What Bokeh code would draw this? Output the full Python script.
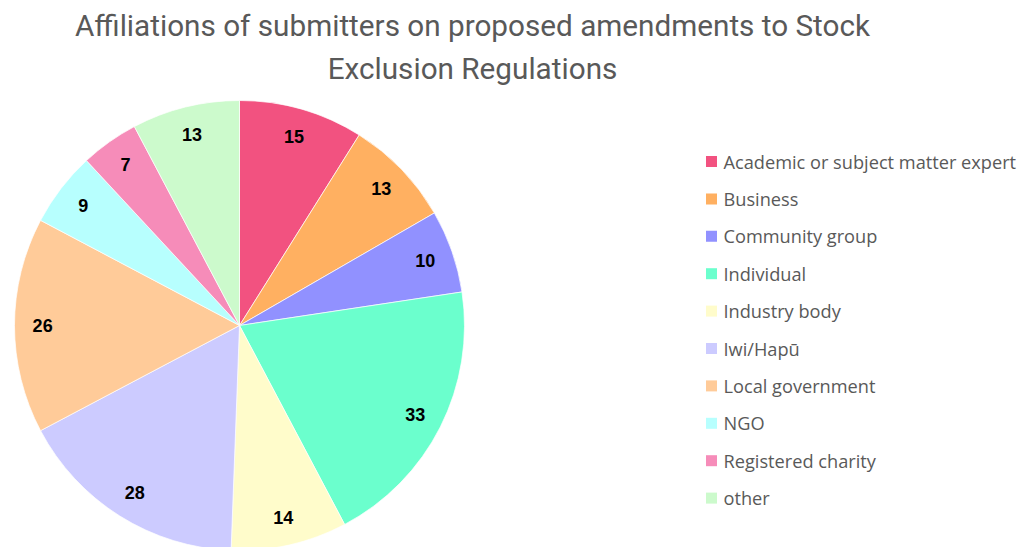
import numpy as np
from bokeh.plotting import figure
from bokeh.models import Range1d, Label, ColumnDataSource
from bokeh.core.properties import value
from bokeh.embed import file_html
from bokeh.resources import INLINE

categories = ["Academic or subject matter expert", "Business", "Community group", "Individual",
              "Industry body", "Iwi/Hapū", "Local government", "NGO", "Registered charity", "other"]
counts = [15, 13, 10, 33, 14, 28, 26, 9, 7, 13]
colors = ["#F25280", "#FFB061", "#9191FF", "#6BFFCD", "#FFFCCB",
          "#CCCBFF", "#FFCB99", "#B7FFFE", "#F68CB9", "#CCFACC"]
title_lines = ["Affiliations of submitters on proposed amendments to Stock", "Exclusion Regulations"]

W, H = 1023, 547
p = figure(width=W, height=H, x_range=Range1d(0, W), y_range=Range1d(0, H),
           output_backend="svg", toolbar_location=None, min_border=0)
p.axis.visible = False
p.grid.visible = False
p.outline_line_color = None
p.background_fill_color = "white"
p.border_fill_color = "white"

cx, cy, R = 239, H - 325, 225
vals = np.array(counts, dtype=float)
frac = vals / vals.sum()
cum = np.concatenate([[0], np.cumsum(frac)])
start = np.pi / 2 - 2 * np.pi * cum[:-1]
end = np.pi / 2 - 2 * np.pi * cum[1:]
mid = (start + end) / 2
src = ColumnDataSource(dict(start=start, end=end, color=colors, cat=categories,
                            lx=cx + 0.875 * R * np.cos(mid), ly=cy + 0.875 * R * np.sin(mid),
                            lab=[str(c) for c in counts]))
p.wedge(x=cx, y=cy, radius=R, start_angle="start", end_angle="end", direction="clock",
        fill_color="color", line_color="white", line_width=0.7, source=src)
p.text(x="lx", y="ly", text="lab", source=src, text_align="center", text_baseline="middle",
       text_font=value("Liberation Sans"), text_font_style="bold", text_font_size="18px",
       text_color="#000000")

# legend
n = len(categories)
ly0 = H - 161
step = 37.4
leg = ColumnDataSource(dict(x=[711] * n, y=[ly0 - i * step for i in range(n)],
                            tx=[723] * n, color=colors, cat=categories))
p.scatter(x="x", y="y", marker="square", size=11, fill_color="color", line_color=None, source=leg)
p.text(x="tx", y="y", text="cat", source=leg, text_align="left", text_baseline="middle",
       text_font=value("Open Sans"), text_font_size="18.2px", text_color="#595959")

for i, t in enumerate(title_lines):
    p.add_layout(Label(x=472, y=H - 25 - i * 43, text=t, text_align="center", text_baseline="middle",
                       text_font="Roboto", text_font_size="29.7px",
                       text_color="#595959"))

open("out.html", "w").write(file_html(p, INLINE))
